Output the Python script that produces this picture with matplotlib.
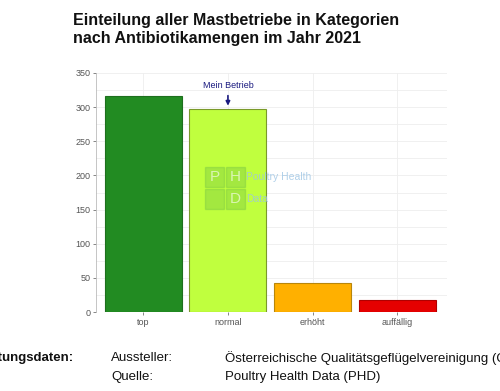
import matplotlib

matplotlib.use("Agg")
import matplotlib.pyplot as plt
from matplotlib.patches import Rectangle

plt.rcParams["font.family"] = ["Liberation Sans", "DejaVu Sans"]

categories = ["top", "normal", "erhöht", "auffällig"]
counts = [317, 298, 42, 17]
fill_colors = ["#228B22", "#C0FF3E", "#FFB000", "#E50000"]
edge_colors = ["#1E6F1E", "#7A9A2A", "#B8860B", "#B00000"]
my_category = "normal"
y_ticks = [0, 50, 100, 150, 200, 250, 300, 350]

W, H = 500, 391
fig = plt.figure(figsize=(5.0, 3.91), dpi=100)
ax = fig.add_axes([96 / W, 1 - 312 / H, 351 / W, (312 - 73) / H])

x = range(len(categories))
ax.bar(x, counts, width=0.91, color=fill_colors, edgecolor=edge_colors, linewidth=0.8, zorder=3)
ax.set_xlim(-0.56, 3.59)
ax.set_ylim(0, 350)
ax.set_yticks(y_ticks)
ax.set_yticks(range(25, 350, 50), minor=True)
ax.set_xticks(list(x))
ax.set_xticklabels(categories)
ax.tick_params(axis="both", labelsize=6.5, colors="#555555", length=2, width=0.5, pad=2)
ax.tick_params(axis="y", which="minor", length=0)
ax.grid(True, which="both", color="#EEEEEE", linewidth=0.6, zorder=0)
for side in ["top", "right", "bottom"]:
    ax.spines[side].set_visible(False)
ax.spines["left"].set_color("#BBBBBB")
ax.spines["left"].set_linewidth(0.6)

# Markierung "Mein Betrieb"
i = categories.index(my_category)
ax.annotate("Mein Betrieb", xy=(i, counts[i]), xytext=(i, counts[i] + 27),
            ha="center", va="bottom", fontsize=6.5, color="#1A1A80",
            arrowprops=dict(arrowstyle="-|>", color="#1A1A80", lw=1.2, mutation_scale=6),
            zorder=5)

# Wasserzeichen PHD
box_green = "#6DBE45"
for bx, by, lbl in [(205, 167, "P"), (226, 167, "H"), (205, 189, ""), (226, 189, "D")]:
    fig.patches.append(Rectangle((bx / W, 1 - (by + 20) / H), 19 / W, 20 / H,
                                 transform=fig.transFigure, color=box_green, alpha=0.35, zorder=4))
    if lbl:
        fig.text((bx + 9.5) / W, 1 - (by + 10) / H, lbl, ha="center", va="center",
                 fontsize=11, color="white", alpha=0.6, zorder=5)
fig.text(246 / W, 1 - 177 / H, "Poultry Health", fontsize=7.5, color="#9CC4E4", va="center", alpha=0.8)
fig.text(246 / W, 1 - 199 / H, "Data", fontsize=7.5, color="#9CC4E4", va="center", alpha=0.8)

fig.text(73 / W, 1 - 20 / H, "Einteilung aller Mastbetriebe in Kategorien",
         fontsize=11.5, fontweight="bold", va="center", color="#111111")
fig.text(73 / W, 1 - 39 / H, "nach Antibiotikamengen im Jahr 2021",
         fontsize=11.5, fontweight="bold", va="center", color="#111111")

fig.text(73 / W, 1 - 358 / H, "Bewertungsdaten:", fontsize=9.5, fontweight="bold",
         ha="right", va="center", color="#111111")
fig.text(111 / W, 1 - 358 / H, "Aussteller:", fontsize=9.5, va="center", color="#111111")
fig.text(111 / W, 1 - 377 / H, "Quelle:", fontsize=9.5, va="center", color="#111111")
fig.text(225 / W, 1 - 358 / H, "Österreichische Qualitätsgeflügelvereinigung (QGV)",
         fontsize=9.5, va="center", color="#111111")
fig.text(225 / W, 1 - 377 / H, "Poultry Health Data (PHD)", fontsize=9.5, va="center", color="#111111")

fig.savefig("out.png", dpi=100)
